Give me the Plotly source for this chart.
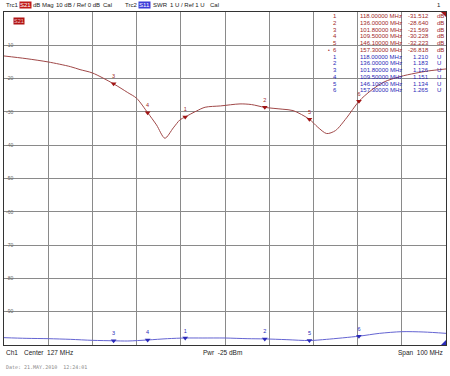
import plotly.graph_objects as go

# ---------------- data ----------------
s21_freq = [77, 82, 87, 92, 94.2, 97, 101.8, 105, 107, 109.5, 111.5, 113.4, 115.3, 116.8, 118,
            120.6, 122.5, 126, 130.4, 133, 136, 140.1, 142.4, 146.1, 148, 150, 152, 154.5,
            157.3, 160, 163, 166.6, 170, 173, 177]
s21_db = [-13.2, -14.0, -15.0, -16.4, -17.3, -18.3, -21.57, -24.2, -25.9, -30.23, -33.9, -37.9,
          -34.8, -32.4, -31.51, -29.7, -28.6, -28.2, -27.6, -27.8, -28.64, -29.2, -29.6, -32.22,
          -34.6, -36.5, -35.6, -31.8, -26.82, -23.6, -21.0, -19.4, -18.4, -17.7, -17.1]

swr_freq = [77, 82, 87, 92, 97, 101.8, 105, 109.5, 114, 118, 122, 127, 132, 136, 141, 146.1,
            150, 157.3, 162, 167, 172, 177]
swr_val = [1.22, 1.20, 1.19, 1.17, 1.14, 1.126, 1.12, 1.151, 1.19, 1.21, 1.21, 1.21, 1.19,
           1.183, 1.16, 1.134, 1.17, 1.265, 1.35, 1.40, 1.39, 1.35]

marker_nums = ["1", "2", "3", "4", "5", "6"]
marker_freq = [118.0, 136.0, 101.8, 109.5, 146.1, 157.3]
marker_s21 = [-31.512, -28.640, -21.569, -30.228, -32.223, -26.818]
marker_swr = [1.210, 1.183, 1.126, 1.151, 1.134, 1.265]

x_range = [77, 177]
db_range = [-100, 0]
swr_range = [1, 11]
db_ticks = [0, -10, -20, -30, -40, -50, -60, -70, -80, -90]

footer_left = "Ch1"
footer_center = "Center  127 MHz"
footer_mid = "Pwr  -25 dBm"
footer_right = "Span  100 MHz"
date_text = "Date: 21.MAY.2010  12:24:01"

# ---------------- styling ----------------
W, H = 450, 376
L, R, T, B = 4, 4, 12, 31
PW, PH = W - L - R, H - T - B
RED_TR = "#a04848"
RED_MK = "#a01414"
RED_TX = "#a02828"
BLUE_TR = "#6464d2"
BLUE_MK = "#2a2ab8"
BLUE_TX = "#2a2ab8"
FONT = "Liberation Sans, Arial, sans-serif"


def px(xp):
    return (xp - L) / PW


def py(yp):
    return (H - B - yp) / PH


fig = go.Figure()

fig.add_trace(go.Scatter(x=s21_freq, y=s21_db, mode="lines",
                         line=dict(color=RED_TR, width=1, shape="spline", smoothing=0.8),
                         hoverinfo="skip", showlegend=False))
fig.add_trace(go.Scatter(x=swr_freq, y=swr_val, mode="lines", yaxis="y2",
                         line=dict(color=BLUE_TR, width=1, shape="spline", smoothing=0.8),
                         hoverinfo="skip", showlegend=False))
fig.add_trace(go.Scatter(x=marker_freq, y=marker_s21, mode="markers+text",
                         marker=dict(symbol="triangle-down", size=5, color=RED_MK),
                         text=marker_nums, textposition="top center",
                         textfont=dict(size=5.5, color=RED_TX, family=FONT),
                         hoverinfo="skip", showlegend=False))
fig.add_trace(go.Scatter(x=marker_freq, y=marker_swr, mode="markers+text", yaxis="y2",
                         marker=dict(symbol="triangle-down", size=5, color=BLUE_MK),
                         text=marker_nums, textposition="top center",
                         textfont=dict(size=5.5, color=BLUE_TX, family=FONT),
                         hoverinfo="skip", showlegend=False))

ann = []


def txt(x, y, s, color="#222", size=6, anchor="left", bg=None, family=FONT):
    d = dict(x=px(x), y=py(y), xref="paper", yref="paper", text=s, showarrow=False,
             xanchor=anchor, yanchor="middle",
             font=dict(size=size, color=color, family=family))
    if bg:
        d["bgcolor"] = bg
        d["borderpad"] = 0
    ann.append(d)


# header
txt(4, 5, "Trc1")
txt(18.5, 5, "S21", color="white", bg="#c01818")
txt(31, 5, "dB Mag")
txt(54, 5, "10 dB / Ref 0 dB")
txt(101, 5, "Cal")
txt(123, 5, "Trc2")
txt(137.5, 5, "S11", color="white", bg="#3c3cd8")
txt(151, 5, "SWR")
txt(168, 5, "1 U / Ref 1 U")
txt(208, 5, "Cal")
txt(443, 5, "1", anchor="right")
txt(13, 21, "S21", color="#f0c0c0", size=5.5, bg="#b01414")

# marker table
rows = []
for n, f, v in zip(marker_nums, marker_freq, marker_s21):
    rows.append((n, f, "%.3f" % v, "dB", RED_TX))
for n, f, v in zip(marker_nums, marker_freq, marker_swr):
    rows.append((n, f, "%.3f" % v, "U", BLUE_TX))
for i, (n, f, v, u, c) in enumerate(rows):
    y = 16.3 + 6.73 * i
    txt(335, y, n, color=c, size=6, anchor="center")
    txt(358, y, "%.5f MHz" % f, color=c, size=6)
    txt(431, y, v, color=c, size=6, anchor="right")
    txt(435, y, u, color=c, size=6)
    if i == 5:
        txt(329, y, "\u2022", color=c, size=5, anchor="center")

# footer
txt(4, 353, footer_left, size=6.5)
txt(22, 353, footer_center, size=6.5)
txt(222, 353, footer_mid, anchor="center", size=6.5)
txt(445, 353, footer_right, anchor="right", size=6.5)
txt(4, 367, date_text, color="#888", size=5, family="DejaVu Sans Mono, monospace")

shapes = [
    dict(type="path", xref="paper", yref="paper",
         path="M %f %f L %f %f L %f %f Z" % (px(446), py(12), px(441), py(12), px(446), py(17)),
         fillcolor=RED_MK, line=dict(width=0)),
    dict(type="path", xref="paper", yref="paper",
         path="M %f %f L %f %f L %f %f Z" % (px(446), py(345), px(441), py(345), px(446), py(340)),
         fillcolor=BLUE_MK, line=dict(width=0)),
]

grid = dict(showgrid=True, gridcolor="#8a8a8a", gridwidth=1.3, zeroline=False,
            showline=True, linecolor="#333", linewidth=1, mirror=True)

fig.update_layout(
    width=W, height=H, margin=dict(l=L, r=R, t=T, b=B),
    paper_bgcolor="white", plot_bgcolor="white",
    xaxis=dict(range=x_range, dtick=10, tick0=77, showticklabels=False, ticks="", **grid),
    yaxis=dict(range=db_range, tickvals=db_ticks, ticktext=[str(t) for t in db_ticks],
               ticklabelposition="inside", ticks="",
               tickfont=dict(size=5, color="#666", family=FONT), **grid),
    yaxis2=dict(range=swr_range, overlaying="y", side="right", showgrid=False,
                showticklabels=False, zeroline=False, ticks=""),
    annotations=ann, shapes=shapes,
)

fig.write_html("out.html", config={"displayModeBar": False},
               post_script="document.body.style.margin='0';document.body.style.padding='0';")
